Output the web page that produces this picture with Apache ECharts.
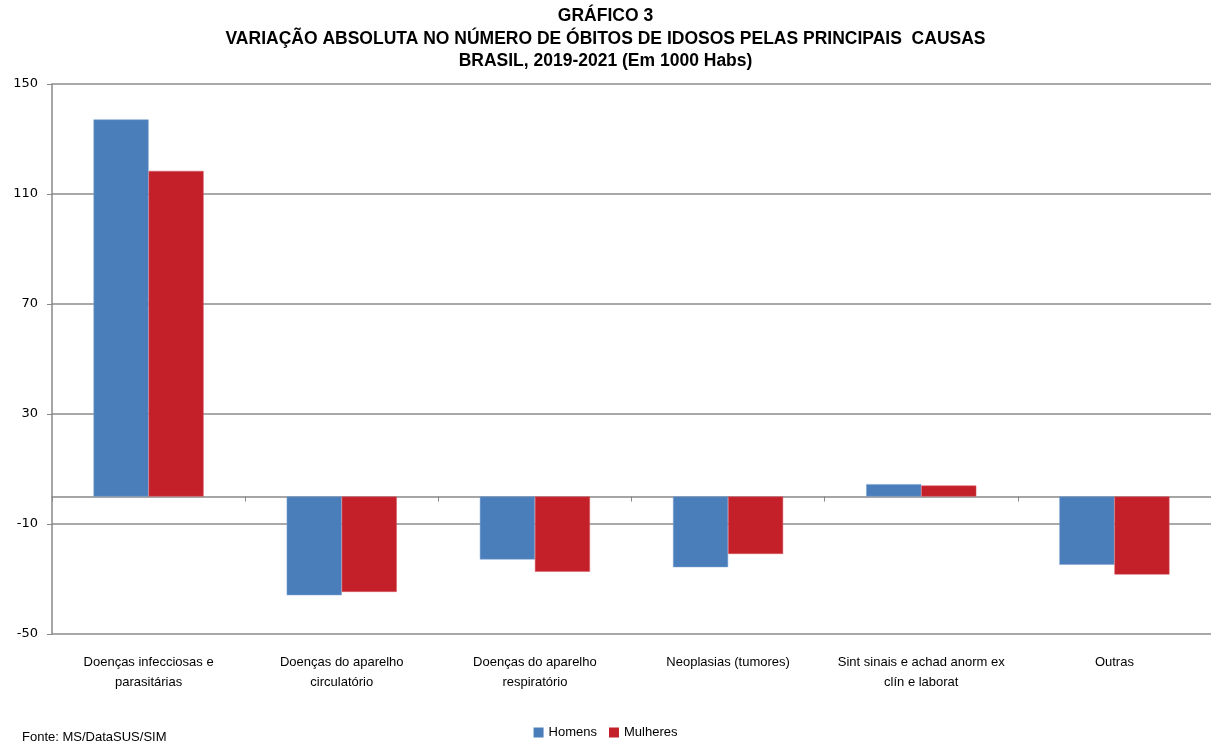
<!DOCTYPE html>
<html>
<head>
<meta charset="utf-8">
<script src="https://cdn.jsdelivr.net/npm/echarts@6/dist/echarts.min.js"></script>
<style>
html, body { margin: 0; padding: 0; background: #fff; }
#main { width: 1211px; height: 746px; }
</style>
</head>
<body>
<div id="main"></div>
<script>
// causas (categorias do eixo x)
var categorias = [
  'Doenças infecciosas e\nparasitárias',
  'Doenças do aparelho\ncirculatório',
  'Doenças do aparelho\nrespiratório',
  'Neoplasias (tumores)',
  'Sint sinais e achad anorm ex\nclín e laborat',
  'Outras'
]
// variação absoluta (em 1000)
var homens   = [137.1, -35.9, -22.9, -25.7, 4.5, -24.8]
var mulheres = [118.4, -34.7, -27.4, -20.9, 4.0, -28.4]
var yTicks = { min: -50, max: 150, interval: 40 }

var chart = echarts.init(document.getElementById('main'))
chart.setOption({
  animation: false,
  backgroundColor: '#fff',
  title: {
    left: 'center',
    top: 0,
    text: 'GRÁFICO 3\nVARIAÇÃO ABSOLUTA NO NÚMERO DE ÓBITOS DE IDOSOS PELAS PRINCIPAIS  CAUSAS\nBRASIL, 2019-2021 (Em 1000 Habs)',
    textStyle: {
      fontFamily: 'Liberation Sans Narrow, Liberation Sans, Arial',
      fontSize: 17.5,
      fontWeight: 'bold',
      color: '#000',
      lineHeight: 22.5
    }
  },
  graphic: [{
    type: 'text',
    left: 22,
    top: 731,
    style: { text: 'Fonte: MS/DataSUS/SIM', fontFamily: 'Liberation Sans, Arial', fontSize: 13, fill: '#000' }
  }],
  legend: {
    bottom: 2,
    left: 'center',
    itemWidth: 10,
    itemHeight: 10,
    itemGap: 12,
    icon: 'rect',
    itemStyle: { borderWidth: 0 },
    textStyle: { fontFamily: 'Liberation Sans, Arial', fontSize: 13, color: '#000' },
    data: ['Homens', 'Mulheres']
  },
  grid: { left: 52, top: 84, width: 1163, height: 550 },
  xAxis: [{
    type: 'category',
    data: categorias,
    axisLine: { onZero: true, lineStyle: { color: '#888', width: 1.5 } },
    axisTick: { show: true, interval: 0, length: 5, lineStyle: { color: '#888' } },
    axisLabel: { show: false }
  }, {
    type: 'category',
    data: categorias,
    position: 'bottom',
    axisLine: { show: false, onZero: false },
    axisTick: { show: false },
    axisLabel: {
      margin: 18,
      interval: 0,
      fontFamily: 'Liberation Sans, Arial',
      fontSize: 13,
      lineHeight: 20,
      color: '#000'
    }
  }],
  yAxis: {
    type: 'value',
    min: yTicks.min,
    max: yTicks.max,
    interval: yTicks.interval,
    axisLine: { show: true, lineStyle: { color: '#888', width: 1.5 } },
    axisTick: { show: true, length: 5, lineStyle: { color: '#888' } },
    axisLabel: { margin: 14, fontFamily: 'DejaVu Sans, Verdana', fontSize: 13, color: '#000' },
    splitLine: { show: true, lineStyle: { color: '#8c8c8c', width: 1.5 } }
  },
  series: [{
    name: 'Homens',
    type: 'bar',
    barGap: 0,
    barCategoryGap: '43%',
    itemStyle: { color: '#4a7ebb', borderColor: '#7ba0d0', borderWidth: 0.5 },
    data: homens
  }, {
    name: 'Mulheres',
    type: 'bar',
    barGap: 0,
    barCategoryGap: '43%',
    itemStyle: { color: '#c3202a', borderColor: '#d86068', borderWidth: 0.5 },
    data: mulheres
  }]
})
</script>
</body>
</html>
